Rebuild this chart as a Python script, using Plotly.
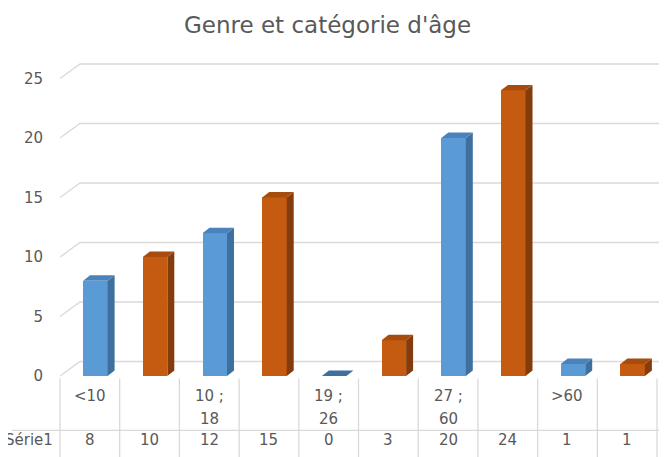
import plotly.graph_objects as go

# ---------------- data ----------------
categories = ["<10", "", "10 ;<br>18", "", "19 ;<br>26", "", "27 ;<br>60", "", ">60", ""]
values = [8, 10, 12, 15, 0, 3, 20, 24, 1, 1]
series_name = "Série1"
title = "Genre et catégorie d'âge"
y_ticks = [0, 5, 10, 15, 20, 25]

# ---------------- style ----------------
FRONT = ["#5B9BD5", "#C55A11"]
SIDE = ["#3E6F9F", "#843C0C"]
TOP = ["#4A82BC", "#A84C0E"]
TXT = "#595959"
GRID = "#D9D9D9"
FONT = "DejaVu Sans"
FS = 15

OFF = 8                      # page body margin
W, H = 667 - OFF, 457 - OFF  # figure size
# page-pixel geometry
PX_L, PX_R = 60, 667
CW = 59.7            # pixels per category
PY0, PY_TOP = 376.5, 58
UY = 11.92           # pixels per unit
xmin = -0.5
xmax = xmin + (PX_R - PX_L) / CW
ymax = (PY0 - PY_TOP) / UY

def fx(px):
    return (px - PX_L) / (PX_R - PX_L)

def fy(py):
    return (PY0 - py) / (PY0 - PY_TOP)

n = len(values)
xs = list(range(n))
bar_w = 24.5 / CW
bar_off = -bar_w / 2 + 5.5 / CW
dx = 7 / CW
dy = 5.5 / UY
gdx = 20 / CW
gdy = 14.5 / UY

fig = go.Figure()

# front faces
fig.add_trace(go.Bar(
    x=xs, y=values, width=bar_w, offset=bar_off,
    marker=dict(color=[FRONT[i % 2] for i in range(n)], line=dict(width=0)),
    hoverinfo="skip", showlegend=False,
))

# side and top faces
for i, v in enumerate(values):
    x0 = xs[i] + bar_off
    x1 = x0 + bar_w
    if v > 0:
        fig.add_trace(go.Scatter(
            x=[x1, x1 + dx, x1 + dx, x1, x1], y=[0, dy, v + dy, v, 0],
            fill="toself", fillcolor=SIDE[i % 2], mode="lines",
            line=dict(width=0, color=SIDE[i % 2]), hoverinfo="skip", showlegend=False))
    fig.add_trace(go.Scatter(
        x=[x0, x0 + dx, x1 + dx, x1, x0], y=[v, v + dy, v + dy, v, v],
        fill="toself", fillcolor=(TOP[i % 2] if v > 0 else SIDE[i % 2]), mode="lines",
        line=dict(width=0, color=TOP[i % 2]), hoverinfo="skip", showlegend=False))

shapes = []
# 3D gridlines (front diagonal + back wall line)
for t in y_ticks:
    shapes.append(dict(type="path", xref="x", yref="y", layer="below",
                       path=f"M {xmin} {t} L {xmin + gdx} {t + gdy} L {xmin + (662 - PX_L) / CW} {t + gdy}",
                       line=dict(color=GRID, width=1.3)))

# data table lines
for k in range(n + 1):
    px = PX_L + k * CW
    shapes.append(dict(type="line", xref="paper", yref="paper",
                       x0=fx(px), x1=fx(px), y0=fy(379), y1=fy(460),
                       line=dict(color=GRID, width=1.3)))
shapes.append(dict(type="line", xref="paper", yref="paper",
                   x0=fx(12), x1=fx(660), y0=fy(431), y1=fy(431),
                   line=dict(color=GRID, width=1.3)))

annotations = []
for i, c in enumerate(categories):
    for j, part in enumerate(c.split("<br>")):
        if part:
            annotations.append(dict(x=xs[i], y=fy(397 + 23 * j), xref="x", yref="paper",
                                    text=part, showarrow=False, xanchor="center", yanchor="middle",
                                    font=dict(size=FS, color=TXT, family=FONT)))
    annotations.append(dict(x=xs[i], y=fy(441), xref="x", yref="paper",
                            text=str(values[i]), showarrow=False, xanchor="center", yanchor="middle",
                            font=dict(size=FS, color=TXT, family=FONT)))
annotations.append(dict(x=fx(55), y=fy(441), xref="paper", yref="paper",
                        text=series_name, showarrow=False, xanchor="right", yanchor="middle",
                        font=dict(size=FS, color=TXT, family=FONT)))
annotations.append(dict(x=fx(327), y=fy(25), xref="paper", yref="paper",
                        text=title, showarrow=False, xanchor="center", yanchor="middle",
                        font=dict(size=23, color=TXT, family=FONT)))

fig.update_layout(
    width=W, height=H,
    margin=dict(l=PX_L - OFF, r=667 - PX_R, t=PY_TOP - OFF, b=457 - PY0),
    paper_bgcolor="white", plot_bgcolor="white",
    xaxis=dict(range=[xmin, xmax], showgrid=False, zeroline=False, showticklabels=False,
               showline=False, fixedrange=True),
    yaxis=dict(range=[0, ymax], tickvals=y_ticks, showgrid=False, zeroline=False,
               showline=False, ticks="", ticklabelstandoff=16,
               tickfont=dict(size=FS, color=TXT, family=FONT)),
    shapes=shapes, annotations=annotations,
    bargap=0, showlegend=False,
)

fig.write_html("out.html")
